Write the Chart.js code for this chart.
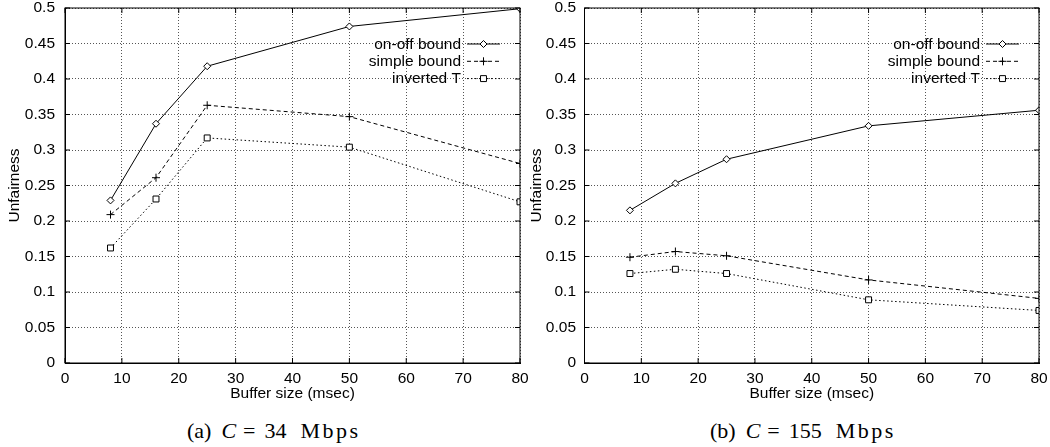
<!DOCTYPE html>
<html>
<head>
<meta charset="utf-8">
<script src="https://cdn.jsdelivr.net/npm/chart.js@4.4.1/dist/chart.umd.min.js"></script>
<style>
  html, body { margin: 0; padding: 0; background: #fff; }
  body { width: 1050px; height: 447px; position: relative; overflow: hidden; }
  .wrap { position: absolute; top: 0; }
  .cap { position: absolute; top: 418px; font-family: "Liberation Serif", "DejaVu Serif", serif; font-size: 22px; color: #000; white-space: pre; line-height: 26px; }
  .cap span { display: inline-block; }
  .cap i { font-style: italic; }
  .cap .m { letter-spacing: 2.5px; }
</style>
</head>
<body>
<div class="wrap" style="left:0px;width:540px;height:410px;"><canvas id="cA" width="540" height="410"></canvas></div>
<div class="wrap" style="left:520px;width:530px;height:410px;"><canvas id="cB" width="530" height="410"></canvas></div>
<div class="cap" style="left:187px;"><span>(a)</span><span style="margin-left:10px"><i>C</i></span><span style="margin-left:7px">=</span><span style="margin-left:9px">34</span><span class="m" style="margin-left:14px">Mbps</span></div>
<div class="cap" style="left:710px;"><span>(b)</span><span style="margin-left:10px"><i>C</i></span><span style="margin-left:7px">=</span><span style="margin-left:9px">155</span><span class="m" style="margin-left:14px">Mbps</span></div>
<script>
const bufferSizes = [8, 16, 25, 50, 80];
const seriesNames = ["on-off bound", "simple bound", "inverted T"];
const onoffA  = [0.229, 0.337, 0.418, 0.474, 0.499];
const simpleA = [0.209, 0.261, 0.363, 0.347, 0.281];
const invA    = [0.162, 0.231, 0.317, 0.304, 0.227];
const onoffB  = [0.215, 0.253, 0.287, 0.334, 0.356];
const simpleB = [0.149, 0.157, 0.151, 0.117, 0.091];
const invB    = [0.126, 0.132, 0.126, 0.089, 0.074];
const xTicks = [0, 10, 20, 30, 40, 50, 60, 70, 80];
const yTicks = [0, 0.05, 0.1, 0.15, 0.2, 0.25, 0.3, 0.35, 0.4, 0.45, 0.5];

const FONT = "'Liberation Sans', Arial, sans-serif";
const FS = 15.5;
const styles = [
  { dash: [], pointStyle: 'rectRot', radius: 3.5 },
  { dash: [4, 3], pointStyle: 'cross', radius: 4 },
  { dash: [1.5, 2.5], pointStyle: 'rect', radius: 4.2 }
];

function pts(arr) { return bufferSizes.map((x, i) => ({ x: x, y: arr[i] })); }

const framePlugin = {
  id: 'frame',
  afterDraw(chart) {
    const ctx = chart.ctx, a = chart.chartArea;
    ctx.save();
    ctx.strokeStyle = '#000';
    ctx.lineWidth = 1;
    ctx.setLineDash([]);
    ctx.strokeRect(a.left, a.top, a.right - a.left, a.bottom - a.top);
    const L = 5;
    ctx.beginPath();
    chart.scales.x.ticks.forEach(t => {
      const px = chart.scales.x.getPixelForValue(t.value);
      ctx.moveTo(px, a.bottom); ctx.lineTo(px, a.bottom - L);
      ctx.moveTo(px, a.top); ctx.lineTo(px, a.top + L);
    });
    chart.scales.y.ticks.forEach(t => {
      const py = chart.scales.y.getPixelForValue(t.value);
      ctx.moveTo(a.left, py); ctx.lineTo(a.left + L, py);
      ctx.moveTo(a.right, py); ctx.lineTo(a.right - L, py);
    });
    ctx.stroke();
    // legend
    ctx.font = FS + "px " + FONT;
    ctx.fillStyle = '#000';
    ctx.textAlign = 'right';
    ctx.textBaseline = 'middle';
    chart.data.datasets.forEach((ds, i) => {
      const y = a.top + 36 + i * 17.3;
      const textRight = a.right - 59;
      const x1 = a.right - 53, x2 = a.right - 20;
      ctx.fillText(ds.label, textRight, y + 0.5);
      ctx.save();
      ctx.strokeStyle = '#000';
      ctx.lineWidth = 1;
      ctx.setLineDash(ds.borderDash || []);
      ctx.beginPath(); ctx.moveTo(x1, y); ctx.lineTo(x2, y); ctx.stroke();
      ctx.setLineDash([]);
      ctx.fillStyle = '#fff';
      Chart.helpers.drawPoint(ctx, { pointStyle: ds.pointStyle, radius: ds.pointRadius, borderWidth: 1, rotation: 0 }, (x1 + x2) / 2, y);
      ctx.restore();
    });
    ctx.restore();
  }
};

function makeChart(id, series, yWidth, yTickPad, yTitlePad, padRight) {
  const datasets = series.map((arr, i) => ({
    label: seriesNames[i],
    data: pts(arr),
    borderColor: '#000',
    backgroundColor: '#fff',
    borderWidth: 1,
    borderDash: styles[i].dash,
    pointStyle: styles[i].pointStyle,
    pointRadius: styles[i].radius,
    pointBorderColor: '#000',
    pointBackgroundColor: '#fff',
    pointBorderWidth: 1,
    tension: 0,
    fill: false
  }));
  return new Chart(document.getElementById(id), {
    type: 'line',
    data: { datasets },
    plugins: [framePlugin],
    options: {
      responsive: false,
      animation: false,
      events: [],
      layout: { padding: { top: 8, right: padRight, left: 0, bottom: 0 } },
      plugins: { legend: { display: false }, tooltip: { enabled: false } },
      scales: {
        x: {
          type: 'linear', min: 0, max: 80,
          afterBuildTicks: s => { s.ticks = xTicks.map(v => ({ value: v })); },
          afterFit: s => { s.height = 47; s.paddingLeft = 0; s.paddingRight = 0; s.paddingTop = 0; s.paddingBottom = 0; },
          ticks: { padding: 6.7, color: '#000', font: { family: FONT, size: FS }, maxRotation: 0, callback: v => String(v) },
          grid: { color: '#555', lineWidth: 1, drawTicks: false },
          border: { display: true, color: '#000', width: 1, dash: [1, 2] },
          title: { display: true, text: 'Buffer size (msec)', color: '#000', font: { family: FONT, size: FS }, padding: { top: 0, bottom: 6.7 } }
        },
        y: {
          type: 'linear', min: 0, max: 0.5,
          afterBuildTicks: s => { s.ticks = yTicks.map(v => ({ value: v })); },
          afterFit: s => { s.width = yWidth; s.paddingLeft = 0; s.paddingRight = 0; s.paddingTop = 0; s.paddingBottom = 0; },
          ticks: { padding: yTickPad, color: '#000', font: { family: FONT, size: FS }, callback: v => String(+v.toFixed(2)) },
          grid: { color: '#555', lineWidth: 1, drawTicks: false },
          border: { display: true, color: '#000', width: 1, dash: [1, 2] },
          title: { display: true, text: 'Unfairness', color: '#000', font: { family: FONT, size: FS }, padding: { top: yTitlePad, bottom: 0 } }
        }
      }
    }
  });
}

makeChart('cA', [onoffA, simpleA, invA], 65, 10, 5.7, 20);
makeChart('cB', [onoffB, simpleB, invB], 64.5, 8.5, 7.7, 11);
</script>
</body>
</html>
